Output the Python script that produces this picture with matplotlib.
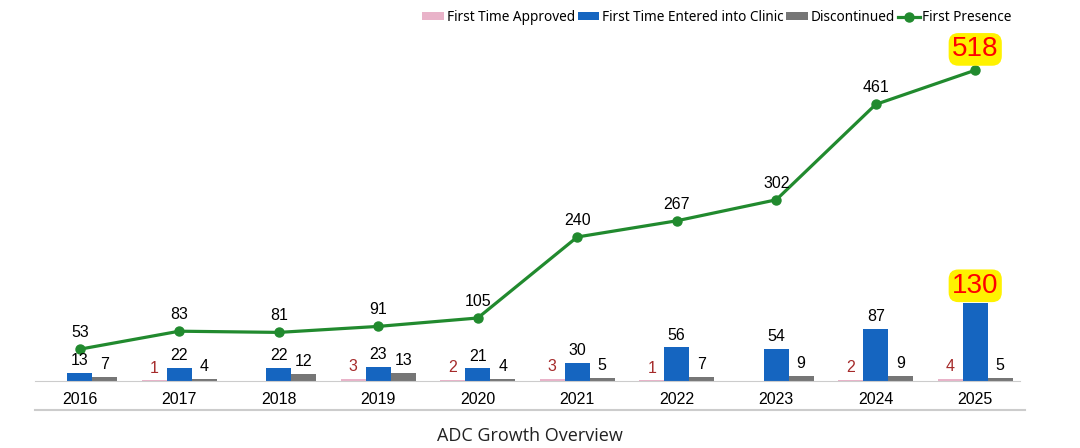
import numpy as np
import matplotlib.pyplot as plt

plt.rcParams['font.family'] = ['Liberation Sans', 'DejaVu Sans']

years = ["2016", "2017", "2018", "2019", "2020", "2021", "2022", "2023", "2024", "2025"]
approved = [0, 1, 0, 3, 2, 3, 1, 0, 2, 4]
entered = [13, 22, 22, 23, 21, 30, 56, 54, 87, 130]
discontinued = [7, 4, 12, 13, 4, 5, 7, 9, 9, 5]
presence = [53, 83, 81, 91, 105, 240, 267, 302, 461, 518]

pink = "#e9b3c9"
blue = "#1565c0"
grey = "#767676"
green = "#218a2e"

fig = plt.figure(figsize=(10.8, 4.48), dpi=100)
W, H = 1080, 448
ax = fig.add_axes([35 / W, (H - 381) / H, 985 / W, 341 / H])

x = np.arange(len(years))
w = 0.25
b1 = ax.bar(x - w, approved, w, color=pink, label="First Time Approved")
b2 = ax.bar(x, entered, w, color=blue, label="First Time Entered into Clinic")
b3 = ax.bar(x + w, discontinued, w, color=grey, label="Discontinued")
ln, = ax.plot(x, presence, color=green, lw=2.3, marker="o", ms=6.5, label="First Presence")

ax.set_xlim(-0.45, 9.45)
ax.set_ylim(0, 341 / 0.6)

last = len(years) - 1
hl = dict(boxstyle="round,pad=0.12,rounding_size=0.35", fc="#fff200", ec="none")
big = dict(fontsize=20, color="red", family=["Liberation Sans Narrow", "Liberation Sans"])
for i in x:
    if approved[i]:
        ax.text(i - w, approved[i] + 8, str(approved[i]), ha="center", va="bottom",
                fontsize=11.5, color="#a52a2a")
    ax.text(i + w, discontinued[i] + 8, str(discontinued[i]), ha="center", va="bottom",
            fontsize=11.5, color="black")
    if i == last:
        ax.text(i, entered[i] + 7, str(entered[i]), ha="center", va="bottom", bbox=hl, **big)
        ax.text(i, presence[i] + 13, str(presence[i]), ha="center", va="bottom", bbox=hl, **big)
    else:
        ax.text(i, entered[i] + 8, str(entered[i]), ha="center", va="bottom",
                fontsize=11.5, color="black")
        ax.text(i, presence[i] + 15, str(presence[i]), ha="center", va="bottom",
                fontsize=11.5, color="black")

ax.set_xticks(x)
ax.set_xticklabels(years, fontsize=11.5)
ax.tick_params(axis="x", length=0, pad=8)
ax.set_yticks([])
for s in ["top", "right", "left"]:
    ax.spines[s].set_visible(False)
ax.spines["bottom"].set_color("#cccccc")

# lower divider line and caption
fig.add_artist(plt.Line2D([35 / W, 1025 / W], [(H - 410) / H] * 2, color="#cccccc", lw=1.5))
fig.text(530 / W, (H - 436) / H, "ADC Growth Overview", ha="center", va="center",
         fontsize=13, color="#222222", family=["Open Sans", "DejaVu Sans"])

ax.legend(handles=[b1, b2, b3, ln], loc="upper right", bbox_to_anchor=(1022 / W, 1.0),
          bbox_transform=fig.transFigure, ncol=4, frameon=False,
          handlelength=1.6, handleheight=0.5, handletextpad=0.2, columnspacing=0.2,
          borderaxespad=0.35, prop={"family": ["Noto Sans", "DejaVu Sans"], "size": 9.8})

fig.savefig("out.png", dpi=100, facecolor="white")
